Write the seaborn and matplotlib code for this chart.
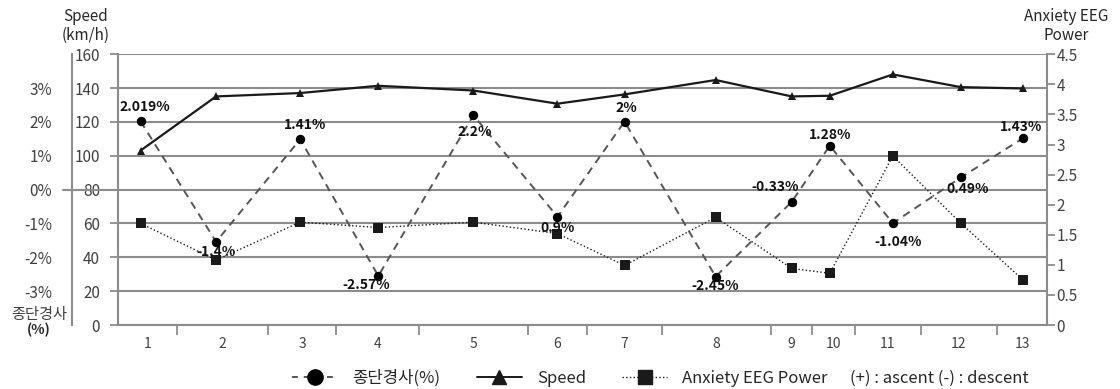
import numpy as np
import pandas as pd
import matplotlib
matplotlib.use("Agg")
import matplotlib.pyplot as plt
from matplotlib.lines import Line2D
import seaborn as sns

# ---------------- data ----------------
sections = [str(i) for i in range(1, 14)]
section_edges = [0, 58.7, 150.3, 217.7, 301, 409.7, 468, 543, 652, 693.7, 736, 802, 878, 928]
point_pos = [22.5, 98, 182, 260, 355, 439, 506, 597, 673, 711, 774, 842, 904]
speed = [103.1, 135.1, 137.1, 141.4, 138.6, 130.8, 136.3, 144.8, 135.1, 135.5, 148.1, 140.6, 139.8]
slope = [2.02, -1.54, 1.49, -2.55, 2.2, -0.8, 2.01, -2.57, -0.36, 1.3, -0.99, 0.36, 1.52]
slope_labels = ["2.019%", "-1.4%", "1.41%", "-2.57%", "2.2%", "0.9%", "2%",
                "-2.45%", "-0.33%", "1.28%", "-1.04%", "0.49%", "1.43%"]
anxiety = [1.69, 1.08, 1.71, 1.62, 1.71, 1.52, 0.99, 1.79, 0.94, 0.86, 2.81, 1.69, 0.75]
speed_ticks = [0, 20, 40, 60, 80, 100, 120, 140, 160]
slope_ticks = [-3, -2, -1, 0, 1, 2, 3]
anxiety_ticks = [0, 0.5, 1, 1.5, 2, 2.5, 3, 3.5, 4, 4.5]

# ---------------- style ----------------
sns.set_style("white")
plt.rcParams['font.family'] = ['Noto Sans CJK KR', 'DejaVu Sans']
plt.rcParams['axes.unicode_minus'] = False

GRID = '#8c8c8c'
TXT = '#404040'
DARK = '#1a1a1a'

df = pd.DataFrame(dict(pos=point_pos, speed=speed, slope=slope, anxiety=anxiety))
mids = [(a + b) / 2 for a, b in zip(section_edges[:-1], section_edges[1:])]

fig = plt.figure(figsize=(11.2, 3.89), dpi=100)
ax = fig.add_axes([118 / 1120, 64 / 389, 929 / 1120, 270.7 / 389])
ax_r = ax.twinx()
ax_p = ax.twinx()

sns.lineplot(data=df, x='pos', y='speed', ax=ax, color=DARK, lw=1.6,
             marker='^', markersize=6, markeredgewidth=0)
sns.lineplot(data=df, x='pos', y='anxiety', ax=ax_r, color=DARK, lw=1.0,
             linestyle=':', marker='s', markersize=6.5, markeredgewidth=0)
sns.lineplot(data=df, x='pos', y='slope', ax=ax_p, color='#555555', lw=1.4,
             linestyle=(0, (4, 3)), marker='o', markersize=6,
             markerfacecolor='black', markeredgecolor='black')

for a in (ax, ax_r, ax_p):
    a.set_xlabel('')
    a.set_ylabel('')
    for s in a.spines.values():
        s.set_visible(False)
        s.set_color(GRID)
        s.set_linewidth(1.5)

# main (speed) axis
ax.set_xlim(section_edges[0], section_edges[-1])
ax.set_ylim(0, 160)
ax.set_yticks(speed_ticks)
ax.spines['left'].set_visible(True)
ax.spines['bottom'].set_visible(True)
ax.grid(axis='y', color=GRID, lw=1.5)
ax.grid(axis='x', visible=False)
ax.tick_params(axis='y', length=5.8, width=1.3, color=GRID, labelcolor=TXT,
               labelsize=11, pad=7, left=True)
ax.set_xticks(mids)
ax.set_xticklabels(sections)
ax.set_xticks(section_edges[1:-1], minor=True)
ax.tick_params(axis='x', which='major', length=0, labelsize=10, labelcolor=TXT, pad=8.5)
ax.tick_params(axis='x', which='minor', length=7.2, width=1.3, color=GRID, bottom=True)

# right (anxiety) axis
ax_r.set_ylim(0, 4.5)
ax_r.set_yticks(anxiety_ticks)
ax_r.set_yticklabels([f'{v:g}' for v in anxiety_ticks])
ax_r.spines['right'].set_visible(True)
ax_r.tick_params(axis='y', length=5.5, width=1.3, color=GRID, labelcolor=TXT,
                 labelsize=11, pad=1.5, right=True)

# slope (%) axis on far left
ax_p.set_ylim(-4, 4)
ax_p.yaxis.tick_left()
ax_p.set_yticks(slope_ticks)
ax_p.set_yticklabels([f'{v}%' for v in slope_ticks])
ax_p.spines['left'].set_visible(True)
ax_p.spines['left'].set_position(('outward', 33.1))
ax_p.tick_params(axis='y', length=0, labelcolor=TXT, labelsize=11, pad=14.4)
ax_p.axhline(0, xmin=-0.059, xmax=0, color=GRID, lw=1.5, clip_on=False)

# data labels
label_offsets = [(4, 14), (0, -10), (5, 14), (-12, -9), (1, -17), (0, -11), (2, 14),
                 (0, -9), (-17, 15), (0, 11), (5, -19), (7, -12), (-2, 11)]
for x, y, lab, off in zip(point_pos, slope, slope_labels, label_offsets):
    ax_p.annotate(lab, (x, y), xytext=off, textcoords='offset pixels',
                  ha='center', va='center', fontsize=10, weight='bold', color='#111111')

# axis titles
fig.text(86 / 1120, 1 - 26 / 389, "Speed\n(km/h)", ha='center', va='center',
         fontsize=11, color='#262626', linespacing=1.15)
fig.text(1066 / 1120, 1 - 26 / 389, "Anxiety EEG\nPower", ha='center', va='center',
         fontsize=11, color='#262626', linespacing=1.15)
fig.text(39 / 1120, 1 - 314 / 389, "종단경사", ha='center', va='center',
         fontsize=11, color=TXT)
fig.text(39 / 1120, 1 - 330 / 389, "(%)", ha='center', va='center',
         fontsize=10, weight='bold', color='#262626')

# legend
handles = [
    Line2D([], [], color='#555555', ls=(0, (3, 3)), lw=1.4, marker='o', ms=11,
           mfc='black', mec='black'),
    Line2D([], [], color=DARK, lw=1.4, marker='^', ms=10, mfc=DARK, mec=DARK),
    Line2D([], [], color=DARK, ls=':', lw=1.0, marker='s', ms=9.5, mfc=DARK, mec=DARK),
]
fig.legend(handles, ['종단경사(%)', 'Speed', 'Anxiety EEG Power'], loc='center',
           bbox_to_anchor=(0.5, 11 / 389), ncol=3, frameon=False, fontsize=12,
           handlelength=2.7, handletextpad=0.9, columnspacing=2.2,
           labelcolor='#262626')
fig.text(850 / 1120, 11 / 389, "(+) : ascent (-) : descent", ha='left', va='center',
         fontsize=12, color='#262626')

fig.savefig('out.png', dpi=100)
